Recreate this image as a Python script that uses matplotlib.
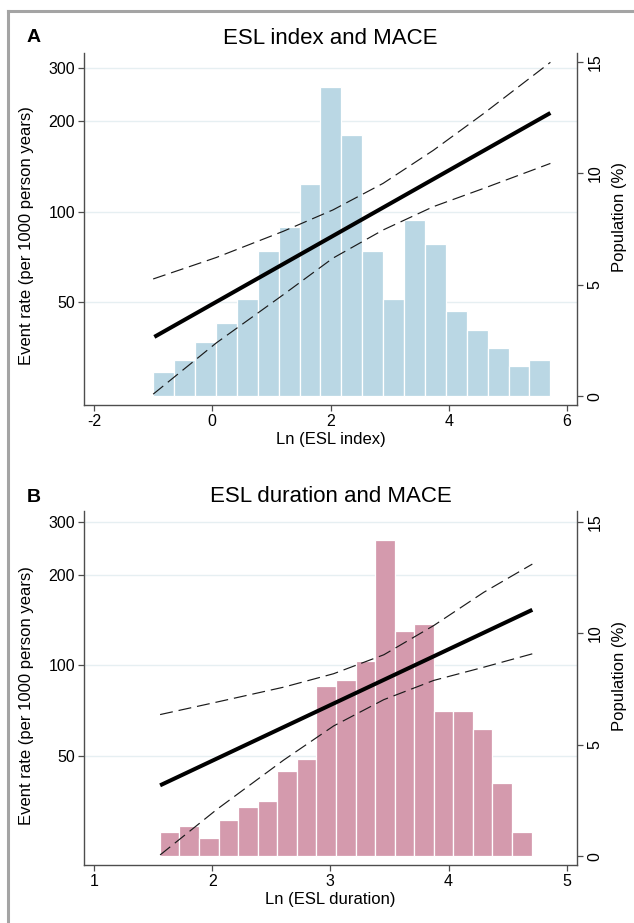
import numpy as np
import matplotlib
matplotlib.use("Agg")
import matplotlib.pyplot as plt
from matplotlib.transforms import blended_transform_factory
from matplotlib.lines import Line2D

plt.rcParams['font.family'] = ['Liberation Sans', 'DejaVu Sans']

# ---------------- Data: panel A (ESL index) ----------------
a_hist_pct = [1.09, 1.62, 2.44, 3.26, 4.34, 6.53, 7.61, 9.52, 13.89, 11.72,
              6.53, 4.34, 7.90, 6.81, 3.82, 2.96, 2.14, 1.35, 1.62]
a_bin_range = (-1.0, 5.72)
a_fit_x = [-0.98, 5.72]
a_fit_y = [38.3, 213.0]
a_upper_x = [-1.0, 0.07, 1.2, 2.04, 2.89, 3.74, 4.59, 5.72]
a_upper_y = [59.7, 70.4, 86.0, 101.3, 124.2, 160.0, 212.0, 314.0]
a_lower_x = [-1.0, 0.07, 1.2, 2.04, 2.89, 3.74, 4.59, 5.72]
a_lower_y = [24.7, 36.6, 52.9, 70.0, 86.9, 103.9, 119.5, 144.7]

# ---------------- Data: panel B (ESL duration) ----------------
b_hist_pct = [1.09, 1.36, 0.82, 1.64, 2.18, 2.47, 3.83, 4.35, 7.64, 7.92,
              8.73, 14.2, 10.1, 10.39, 6.53, 6.53, 5.72, 3.26, 1.09]
b_bin_range = (1.557, 4.703)
b_fit_x = [1.559, 4.709]
b_fit_y = [40.0, 153.0]
b_upper_x = [1.559, 2.04, 2.604, 3.028, 3.452, 3.875, 4.299, 4.709]
b_upper_y = [68.7, 75.6, 84.7, 93.9, 108.5, 135.7, 175.0, 217.0]
b_lower_x = [1.559, 2.04, 2.604, 3.028, 3.452, 3.875, 4.299, 4.709]
b_lower_y = [23.5, 33.3, 48.5, 63.0, 77.0, 89.2, 98.7, 109.3]

rate_ticks = [50, 100, 200, 300]
pct_ticks = [0, 5, 10, 15]

fig = plt.figure(figsize=(6.34, 9.23), dpi=100)

# Gray frame lines (top and left)
fig.add_artist(Line2D([7.5/634, 1.0], [1 - 10.8/923, 1 - 10.8/923],
                      transform=fig.transFigure, color='#a4a4a4', lw=2.2))
fig.add_artist(Line2D([7.5/634, 7.5/634], [0.0, 1 - 10.8/923],
                      transform=fig.transFigure, color='#a4a4a4', lw=2.2))

SPINE = '#4d4d4d'


def panel(rect, hist, bin_range, fit_x, fit_y, ux, uy, lx, ly, xlim, xticks,
          ylim, pctlim, color, title, letter, xlabel, letter_y, title_y):
    ax = fig.add_axes(rect)
    ax2 = ax.twinx()
    ax.set_zorder(ax2.get_zorder() + 1)
    ax.patch.set_visible(False)

    ax.set_yscale('log')
    ax.set_xlim(*xlim)
    ax.set_ylim(*ylim)
    ax2.set_ylim(*pctlim)

    # gridlines (behind bars), in log-rate coordinates
    tr = blended_transform_factory(ax2.transAxes, ax.transData)
    for v in rate_ticks:
        ax2.plot([0, 1], [v, v], transform=tr, color='#e6eff2', lw=1.0, zorder=0)

    edges = np.linspace(bin_range[0], bin_range[1], len(hist) + 1)
    ax2.bar(edges[:-1], hist, width=np.diff(edges), align='edge', color=color,
            edgecolor='white', linewidth=0.9, zorder=1)

    ax.plot(fit_x, fit_y, color='black', lw=2.9, solid_capstyle='butt')
    ax.plot(ux, uy, color='#1a1a1a', lw=0.85, dashes=(11, 5))
    ax.plot(lx, ly, color='#1a1a1a', lw=0.85, dashes=(11, 5))

    ax.yaxis.set_major_locator(matplotlib.ticker.FixedLocator(rate_ticks))
    ax.yaxis.set_minor_locator(matplotlib.ticker.NullLocator())
    ax.yaxis.set_major_formatter(matplotlib.ticker.FixedFormatter([str(t) for t in rate_ticks]))
    ax.set_xticks(xticks)
    ax.set_xticklabels([str(t) for t in xticks])
    ax2.set_yticks(pct_ticks)
    ax2.set_yticklabels([str(t) for t in pct_ticks])

    for a in (ax, ax2):
        a.spines['top'].set_visible(False)
        for s in a.spines.values():
            s.set_color(SPINE)
            s.set_linewidth(1.0)
    ax.spines['right'].set_visible(False)
    ax2.spines['left'].set_visible(False)
    ax2.spines['bottom'].set_visible(False)

    ax.tick_params(axis='both', which='major', length=4.5, width=0.9, color=SPINE,
                   labelsize=11.5, pad=2)
    ax2.tick_params(axis='y', length=4.5, width=0.9, color=SPINE, labelsize=11.5,
                    pad=3, labelrotation=90)
    for lab in ax2.get_yticklabels():
        lab.set_va('center')

    ax.set_xlabel(xlabel, fontsize=12, labelpad=2)
    ax.set_ylabel('Event rate (per 1000 person years)', fontsize=12)
    ax.yaxis.set_label_coords(-0.102, 0.48)
    ax2.set_ylabel('Population (%)', fontsize=12)
    ax2.yaxis.set_label_coords(1.07, 0.535)

    fig.text(0.5 * (rect[0] * 2 + rect[2]), title_y, title, fontsize=16,
             ha='center', va='center')
    fig.text(34 / 634, letter_y, letter, fontsize=14, fontweight='bold',
             ha='center', va='center')
    return ax, ax2


panel([84/634, 1 - 405/923, 493/634, 352.3/923], a_hist_pct, a_bin_range,
      a_fit_x, a_fit_y, a_upper_x, a_upper_y, a_lower_x, a_lower_y,
      (-2.17, 6.17), [-2, 0, 2, 4, 6], (22.73, 338.0), (-0.40, 15.42),
      '#bad7e4', 'ESL index and MACE', 'A', 'Ln (ESL index)',
      1 - 38/923, 1 - 38/923)

panel([84/634, 1 - 865/923, 493/634, 354/923], b_hist_pct, b_bin_range,
      b_fit_x, b_fit_y, b_upper_x, b_upper_y, b_lower_x, b_lower_y,
      (0.915, 5.087), [1, 2, 3, 4, 5], (21.76, 325.6), (-0.40, 15.48),
      '#d49aad', 'ESL duration and MACE', 'B', 'Ln (ESL duration)',
      1 - 497/923, 1 - 497/923)

fig.savefig('out.png', dpi=100)
